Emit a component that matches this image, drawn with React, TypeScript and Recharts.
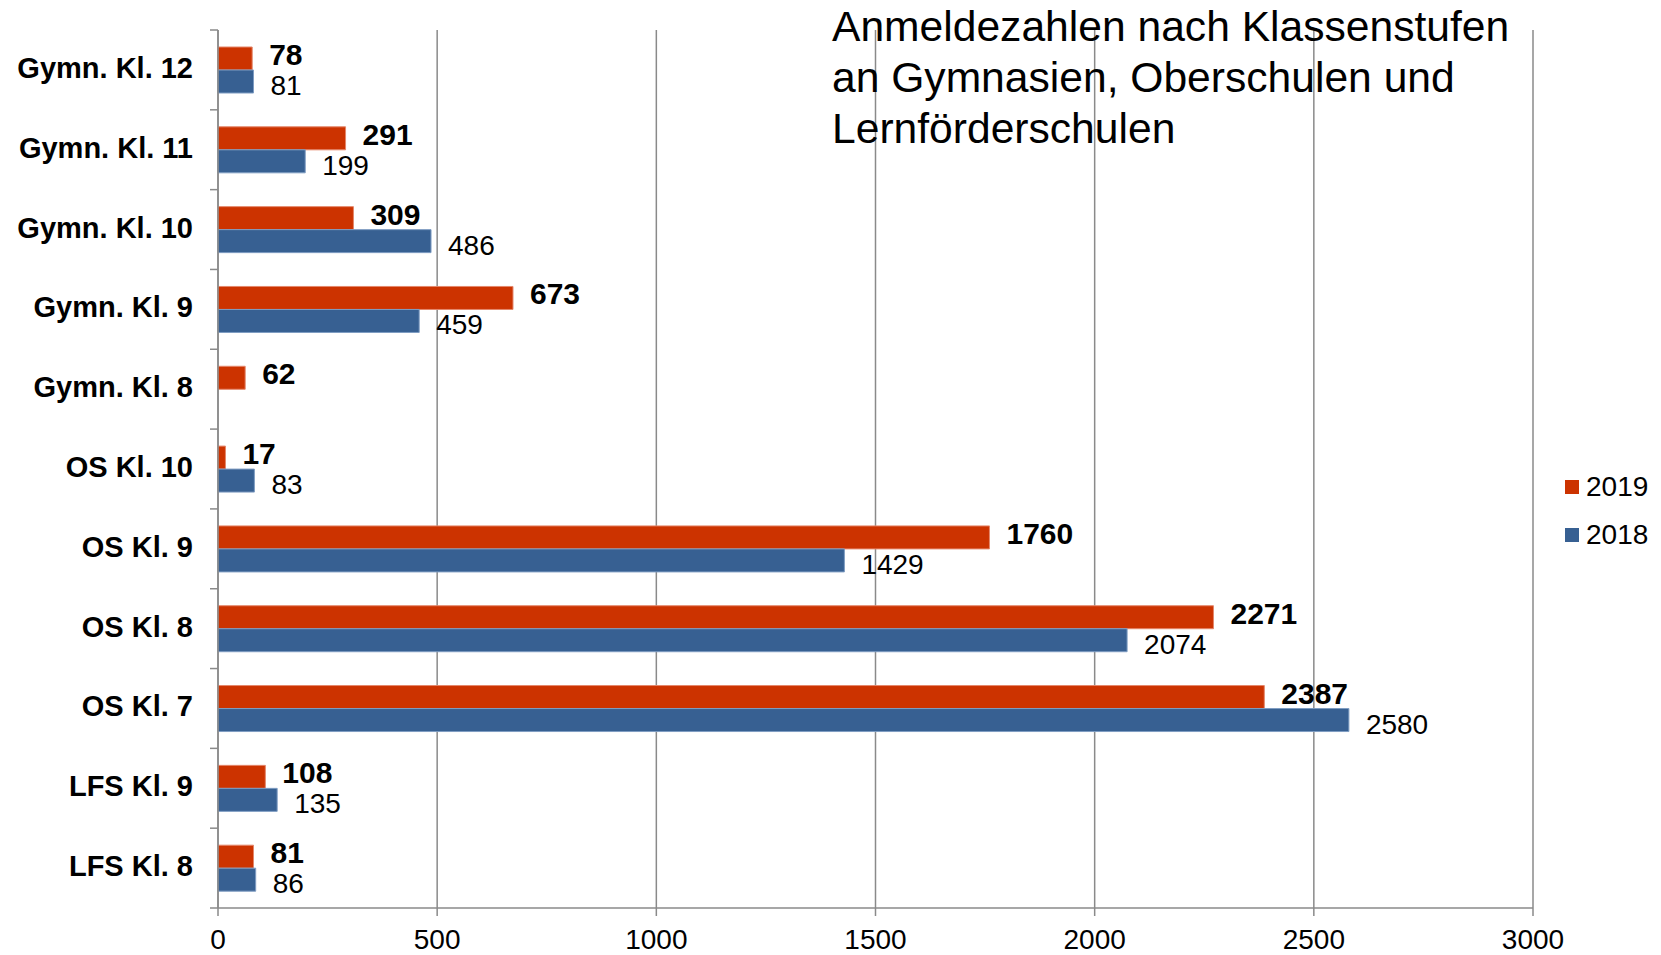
import React from 'react'
import { BarChart, Bar, XAxis, YAxis, CartesianGrid, LabelList } from 'recharts'

const categories = [
  'Gymn. Kl. 12',
  'Gymn. Kl. 11',
  'Gymn. Kl. 10',
  'Gymn. Kl. 9',
  'Gymn. Kl. 8',
  'OS Kl. 10',
  'OS Kl. 9',
  'OS Kl. 8',
  'OS Kl. 7',
  'LFS Kl. 9',
  'LFS Kl. 8',
]
const values2019 = [78, 291, 309, 673, 62, 17, 1760, 2271, 2387, 108, 81]
const values2018: (number | null)[] = [81, 199, 486, 459, null, 83, 1429, 2074, 2580, 135, 86]
const xTicks = [0, 500, 1000, 1500, 2000, 2500, 3000]
const seriesNames = ['2019', '2018']
const titleLines = [
  'Anmeldezahlen nach Klassenstufen',
  'an Gymnasien, Oberschulen und',
  'Lernförderschulen',
]

const W = 1661
const H = 955
const PLOT_LEFT = 218
const PLOT_TOP = 30
const PLOT_BOTTOM = 47
const BAND = (H - PLOT_TOP - PLOT_BOTTOM) / categories.length
const FONT = '"Liberation Sans", Arial, sans-serif'
const RED = '#CC3300'
const BLUE = '#376092'
const GRID = '#8a8a8a'

const data = categories.map((name, i) => ({
  name,
  y2019: values2019[i],
  y2018: values2018[i],
}))

function CategoryTick(props: any) {
  const { x, y, payload, index } = props
  const last = index === categories.length - 1
  return (
    <g>
      <line x1={PLOT_LEFT - 8} x2={PLOT_LEFT} y1={y - BAND / 2} y2={y - BAND / 2} stroke={GRID} strokeWidth={1.5} />
      {last && (
        <line x1={PLOT_LEFT - 8} x2={PLOT_LEFT} y1={y + BAND / 2} y2={y + BAND / 2} stroke={GRID} strokeWidth={1.5} />
      )}
      <text
        x={x}
        y={y - 2}
        textAnchor="end"
        dominantBaseline="central"
        fontFamily={FONT}
        fontWeight="bold"
        fontSize={29}
        fill="#000"
      >
        {payload.value}
      </text>
    </g>
  )
}

function makeLabel(bold: boolean, dy: number) {
  return (props: any) => {
    const { x, y, width, height, value } = props
    if (value === null || value === undefined) return null
    return (
      <text
        x={Number(x) + Number(width) + 17}
        y={Number(y) + Number(height) / 2 + dy}
        dominantBaseline="central"
        fontFamily={FONT}
        fontWeight={bold ? 'bold' : 'normal'}
        fontSize={bold ? 30 : 28}
        fill="#000"
      >
        {value}
      </text>
    )
  }
}

function LegendBox() {
  const colors = [RED, BLUE]
  return (
    <div
      style={{
        position: 'absolute',
        left: 1565,
        top: 463,
        fontFamily: FONT,
        fontSize: 28,
        lineHeight: '48px',
        color: '#000',
      }}
    >
      {seriesNames.map((label, i) => (
        <div key={label} style={{ display: 'flex', alignItems: 'center' }}>
          <span style={{ width: 14, height: 14, background: colors[i], marginRight: 7, display: 'inline-block' }} />
          <span>{label}</span>
        </div>
      ))}
    </div>
  )
}

export default function App() {
  return (
    <div style={{ position: 'absolute', left: 0, top: 0, width: W, height: H, background: '#fff' }}>
      <BarChart
        width={W}
        height={H}
        data={data}
        layout="vertical"
        margin={{ top: PLOT_TOP, right: W - 1533, bottom: 0, left: 0 }}
        barGap={0}
        barSize={23}
      >
        <CartesianGrid horizontal={false} stroke={GRID} strokeWidth={1.5} />
        <XAxis
          type="number"
          domain={[0, 3000]}
          ticks={xTicks}
          height={PLOT_BOTTOM}
          axisLine={{ stroke: GRID, strokeWidth: 1.5 }}
          tickLine={{ stroke: GRID, strokeWidth: 1.5 }}
          tickSize={8}
          tickMargin={13}
          tick={{ fontFamily: FONT, fontSize: 28, fill: '#000' }}
          interval={0}
        />
        <YAxis
          type="category"
          dataKey="name"
          width={PLOT_LEFT}
          axisLine={{ stroke: GRID, strokeWidth: 1.5 }}
          tickLine={false}
          tickSize={8}
          tickMargin={17}
          tick={<CategoryTick />}
          interval={0}
        />
        <Bar dataKey="y2019" name={seriesNames[0]} fill={RED} stroke="#E4876B" strokeWidth={1} isAnimationActive={false}>
          <LabelList dataKey="y2019" content={makeLabel(true, -4)} />
        </Bar>
        <Bar dataKey="y2018" name={seriesNames[1]} fill={BLUE} stroke="#7E9CC2" strokeWidth={1} isAnimationActive={false}>
          <LabelList dataKey="y2018" content={makeLabel(false, 4)} />
        </Bar>
      </BarChart>
      <LegendBox />
      <div
        style={{
          position: 'absolute',
          left: 832,
          top: 1,
          fontFamily: FONT,
          fontSize: 42.6,
          lineHeight: '51px',
          color: '#000',
          whiteSpace: 'nowrap',
        }}
      >
        {titleLines.map((l) => (
          <div key={l}>{l}</div>
        ))}
      </div>
    </div>
  )
}
